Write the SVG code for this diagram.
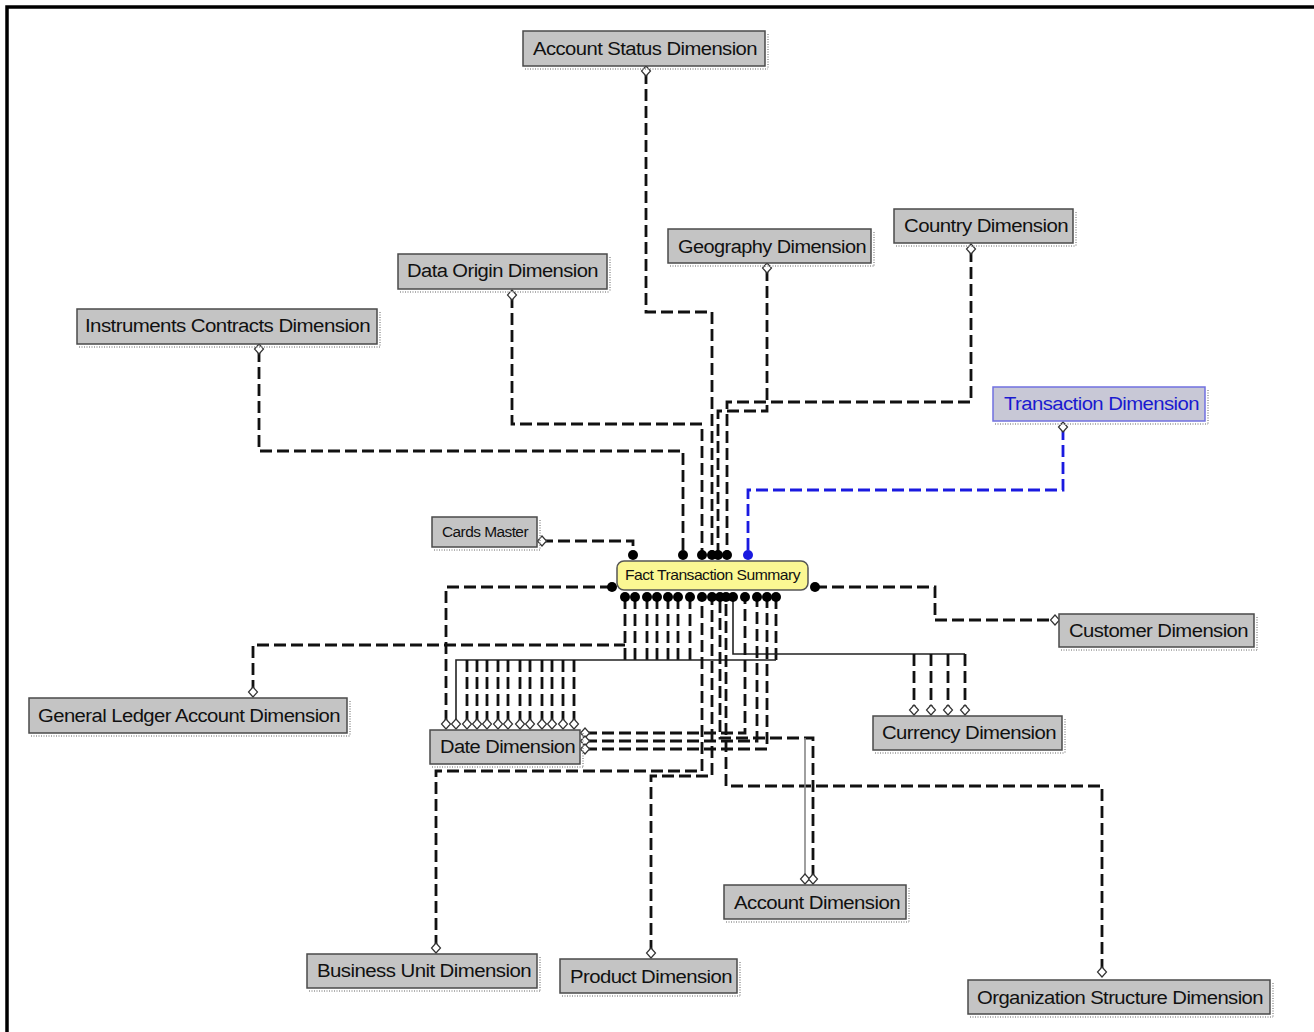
<svg xmlns="http://www.w3.org/2000/svg" width="1314" height="1032" viewBox="0 0 1314 1032">
<style>
.bx{fill:#c4c4c4;stroke:#4a4a4a;stroke-width:1.5}
.sh{fill:none;stroke:#b0b0b0;stroke-width:2;stroke-dasharray:1 1.5}
.tx{font-family:"Liberation Sans",Arial,sans-serif;font-size:18px;fill:#111;letter-spacing:-0.5px}
.c{fill:none;stroke:#111;stroke-width:2.8;stroke-dasharray:12 5}
.cb{fill:none;stroke:#1a1ae0;stroke-width:2.8;stroke-dasharray:12 5}
.t{fill:none;stroke:#222;stroke-width:1.6}
.tg{fill:none;stroke:#888;stroke-width:1.6}
.dot{fill:#000}
.dia{fill:#fff;stroke:#333;stroke-width:1.2}
</style>
<defs>
<circle id="d" r="5"/>
<path id="m" d="M0,-5 L4.5,0 L0,5 L-4.5,0Z"/>
</defs>
<rect width="1314" height="1032" fill="#fff"/>
<path d="M7,1032 V7 H1314" fill="none" stroke="#000" stroke-width="3.5"/>

<g id="connectors">
<path class="c" d="M646,72 V312 H712 V555"/>
<path class="c" d="M767,269 V411 H718 V555"/>
<path class="c" d="M971,250 V402 H727 V555"/>
<path class="c" d="M512,296 V424 H702 V555"/>
<path class="c" d="M259,350 V451 H683 V555"/>
<path class="c" d="M541,541 H633 V555"/>
<path class="cb" d="M1063,428 V490 H748 V555"/>
<path class="c" d="M612,587 H446 V723"/>
<path class="c" d="M815,587 H935 V620 H1055"/>
<path class="c" d="M253,692 V645 H625"/>
<path class="c" d="M625,597 V660 M635,597 V660 M647,597 V660 M657,597 V660 M668,597 V660 M678,597 V660 M690,597 V660 M776,597 V660"/>
<path class="t" d="M456,723 V660 H776"/>
<path class="c" d="M467,660 V723 M477,660 V723 M487,660 V723 M498,660 V723 M508,660 V723 M520,660 V723 M530,660 V723 M542,660 V723 M552,660 V723 M563,660 V723 M574,660 V723"/>
<path class="t" d="M733,597 V654 H965"/>
<path class="c" d="M914,654 V709 M931,654 V709 M948,654 V709 M965,654 V709"/>
<path class="c" d="M585,733 H745 V597"/>
<path class="c" d="M585,741 H757 V597"/>
<path class="c" d="M585,749 H767 V597"/>
<path class="c" d="M436,947 V771 H702 V597"/>
<path class="c" d="M651,952 V776 H712 V597"/>
<path class="c" d="M1102,971 V786 H726 V597"/>
<path class="c" d="M813,877 V738 H720 V597"/>
<path class="tg" d="M805,877 V738"/>
<g class="dot">
<use href="#d" x="633" y="555"/><use href="#d" x="683" y="555"/><use href="#d" x="702" y="555"/><use href="#d" x="712" y="555"/><use href="#d" x="718" y="555"/><use href="#d" x="727" y="555"/>
<use href="#d" x="612" y="587"/><use href="#d" x="815" y="587"/>
<use href="#d" x="625" y="597"/><use href="#d" x="635" y="597"/><use href="#d" x="647" y="597"/><use href="#d" x="657" y="597"/><use href="#d" x="668" y="597"/><use href="#d" x="678" y="597"/><use href="#d" x="690" y="597"/><use href="#d" x="702" y="597"/><use href="#d" x="712" y="597"/><use href="#d" x="720" y="597"/><use href="#d" x="726" y="597"/><use href="#d" x="733" y="597"/><use href="#d" x="745" y="597"/><use href="#d" x="757" y="597"/><use href="#d" x="767" y="597"/><use href="#d" x="776" y="597"/>
</g>
<use href="#d" x="748" y="555" fill="#1a1ae0"/>
<g class="dia">
<use href="#m" x="646" y="71"/><use href="#m" x="767" y="268"/><use href="#m" x="971" y="249"/><use href="#m" x="512" y="295"/><use href="#m" x="259" y="349"/><use href="#m" x="1063" y="427"/>
<use href="#m" x="542" y="541"/><use href="#m" x="1055" y="620"/><use href="#m" x="253" y="692"/>
<use href="#m" x="446" y="724"/><use href="#m" x="456" y="724"/><use href="#m" x="467" y="724"/><use href="#m" x="477" y="724"/><use href="#m" x="487" y="724"/><use href="#m" x="498" y="724"/><use href="#m" x="508" y="724"/><use href="#m" x="520" y="724"/><use href="#m" x="530" y="724"/><use href="#m" x="542" y="724"/><use href="#m" x="552" y="724"/><use href="#m" x="563" y="724"/><use href="#m" x="574" y="724"/>
<use href="#m" x="585" y="733"/><use href="#m" x="585" y="741"/><use href="#m" x="585" y="749"/>
<use href="#m" x="914" y="710"/><use href="#m" x="931" y="710"/><use href="#m" x="948" y="710"/><use href="#m" x="965" y="710"/>
<use href="#m" x="436" y="948"/><use href="#m" x="651" y="953"/><use href="#m" x="805" y="879"/><use href="#m" x="813" y="879"/><use href="#m" x="1102" y="972"/>
</g>
</g>

<g id="account-status">
<path class="sh" d="M525,69 H768 M768,34 V69"/>
<rect class="bx" x="523" y="31" width="242" height="35"/>
<text class="tx" x="533" y="55" textLength="224" lengthAdjust="spacingAndGlyphs">Account Status Dimension</text>
</g>
<g id="geography">
<path class="sh" d="M670,266 H874 M874,232 V266"/>
<rect class="bx" x="668" y="229" width="203" height="34"/>
<text class="tx" x="678" y="253" textLength="188" lengthAdjust="spacingAndGlyphs">Geography Dimension</text>
</g>
<g id="country">
<path class="sh" d="M896,246 H1076 M1076,212 V246"/>
<rect class="bx" x="894" y="209" width="179" height="34"/>
<text class="tx" x="904" y="232" textLength="164" lengthAdjust="spacingAndGlyphs">Country Dimension</text>
</g>
<g id="data-origin">
<path class="sh" d="M400,292 H610 M610,257 V292"/>
<rect class="bx" x="398" y="254" width="209" height="35"/>
<text class="tx" x="407" y="277" textLength="191" lengthAdjust="spacingAndGlyphs">Data Origin Dimension</text>
</g>
<g id="instruments">
<path class="sh" d="M79,347 H380 M380,312 V347"/>
<rect class="bx" x="77" y="309" width="300" height="35"/>
<text class="tx" x="85" y="332" textLength="285" lengthAdjust="spacingAndGlyphs">Instruments Contracts Dimension</text>
</g>
<g id="transaction">
<path class="sh" d="M995,424 H1208 M1208,390 V424"/>
<rect x="993" y="387" width="212" height="34" fill="#c8c8d6" stroke="#7070e0" stroke-width="1.5"/>
<text class="tx" x="1004" y="410" textLength="195" lengthAdjust="spacingAndGlyphs" style="fill:#1a1ad0">Transaction Dimension</text>
</g>
<g id="cards-master">
<path class="sh" d="M434,550 H540 M540,520 V550"/>
<rect class="bx" x="432" y="517" width="105" height="30"/>
<text class="tx" x="442" y="537" textLength="86" lengthAdjust="spacingAndGlyphs" style="font-size:14px">Cards Master</text>
</g>
<g id="fact">
<rect x="617" y="561" width="191" height="29" rx="7" fill="#fbf793" stroke="#555" stroke-width="1.5"/>
<text class="tx" x="625" y="580" textLength="175" lengthAdjust="spacingAndGlyphs" style="font-size:15px">Fact Transaction Summary</text>
</g>
<g id="customer">
<path class="sh" d="M1061,650 H1257 M1257,617 V650"/>
<rect class="bx" x="1059" y="614" width="195" height="33"/>
<text class="tx" x="1069" y="637" textLength="179" lengthAdjust="spacingAndGlyphs">Customer Dimension</text>
</g>
<g id="general-ledger">
<path class="sh" d="M31,736 H350 M350,701 V736"/>
<rect class="bx" x="29" y="698" width="318" height="35"/>
<text class="tx" x="38" y="722" textLength="302" lengthAdjust="spacingAndGlyphs">General Ledger Account Dimension</text>
</g>
<g id="date">
<path class="sh" d="M432,767 H583 M583,733 V767"/>
<rect class="bx" x="430" y="730" width="150" height="34"/>
<text class="tx" x="440" y="753" textLength="135" lengthAdjust="spacingAndGlyphs">Date Dimension</text>
</g>
<g id="currency">
<path class="sh" d="M875,753 H1065 M1065,719 V753"/>
<rect class="bx" x="873" y="716" width="189" height="34"/>
<text class="tx" x="882" y="739" textLength="174" lengthAdjust="spacingAndGlyphs">Currency Dimension</text>
</g>
<g id="account">
<path class="sh" d="M726,922 H909 M909,888 V922"/>
<rect class="bx" x="724" y="885" width="182" height="34"/>
<text class="tx" x="734" y="909" textLength="166" lengthAdjust="spacingAndGlyphs">Account Dimension</text>
</g>
<g id="business-unit">
<path class="sh" d="M309,991 H540 M540,957 V991"/>
<rect class="bx" x="307" y="954" width="230" height="34"/>
<text class="tx" x="317" y="977" textLength="214" lengthAdjust="spacingAndGlyphs">Business Unit Dimension</text>
</g>
<g id="product">
<path class="sh" d="M562,996 H740 M740,962 V996"/>
<rect class="bx" x="560" y="959" width="177" height="34"/>
<text class="tx" x="570" y="983" textLength="162" lengthAdjust="spacingAndGlyphs">Product Dimension</text>
</g>
<g id="organization-structure">
<path class="sh" d="M970,1017 H1273 M1273,983 V1017"/>
<rect class="bx" x="968" y="980" width="302" height="34"/>
<text class="tx" x="977" y="1004" textLength="286" lengthAdjust="spacingAndGlyphs">Organization Structure Dimension</text>
</g>
</svg>
